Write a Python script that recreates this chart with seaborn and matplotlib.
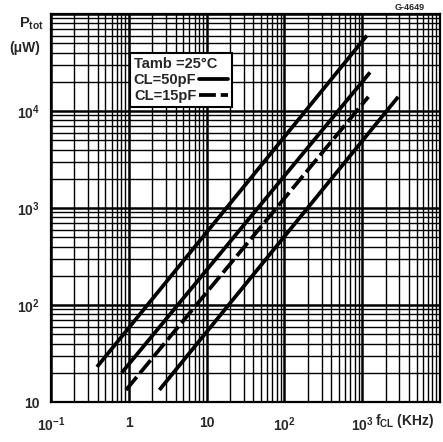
import numpy as np
import pandas as pd
import matplotlib
matplotlib.use("Agg")
import matplotlib.pyplot as plt
import seaborn as sns
from matplotlib.lines import Line2D
from matplotlib.ticker import LogLocator, FixedLocator, FixedFormatter, NullFormatter

# ---- data ----
freq_a = [0.39, 1150]
ptot_a = [23, 60000]
freq_b = [0.81, 1260]
ptot_b = [20, 25000]
freq_c = [0.92, 1200]
ptot_c = [13.3, 14000]
freq_d = [2.47, 2900]
ptot_d = [13.3, 14000]
curve_styles = ["solid", "solid", "dashed", "solid"]

x_ticks = [0.1, 1, 10, 100, 1000, 10000]
x_tick_labels = [r"$10^{-1}$", "1", "10", r"$10^{2}$", r"$10^{3}$", ""]
y_ticks = [10, 100, 1000, 10000, 100000]
y_tick_labels = ["10", r"$10^{2}$", r"$10^{3}$", r"$10^{4}$", ""]
legend_labels = ["CL=50pF", "CL=15pF"]
legend_title = "Tamb =25°C"

sns.set_style("white")
plt.rcParams["font.family"] = ["Liberation Sans", "DejaVu Sans"]
plt.rcParams["font.weight"] = "bold"
plt.rcParams["mathtext.fontset"] = "custom"
plt.rcParams["mathtext.rm"] = "Liberation Sans:bold"
plt.rcParams["mathtext.bf"] = "Liberation Sans:bold"
plt.rcParams["mathtext.it"] = "Liberation Sans:bold"
plt.rcParams["mathtext.default"] = "bf"

W, H = 443, 442
fig = plt.figure(figsize=(W / 100, H / 100), dpi=100)
ax = fig.add_axes([51 / W, 40 / H, 389 / W, 388 / H])
ax.set_xscale("log")
ax.set_yscale("log")

dash = (0, (4.5, 1.3))
rows = []
for name, f, p in zip("ABCD", [freq_a, freq_b, freq_c, freq_d],
                      [ptot_a, ptot_b, ptot_c, ptot_d]):
    for fi, pi in zip(f, p):
        rows.append({"curve": name, "f": fi, "P": pi})
df = pd.DataFrame(rows)

for name, st in zip("ABCD", curve_styles):
    sub = df[df["curve"] == name]
    sns.lineplot(data=sub, x="f", y="P", ax=ax, color="black", lw=2.7,
                 linestyle="-" if st == "solid" else dash,
                 estimator=None, sort=False, solid_capstyle="butt", zorder=4)

ax.set_xlim(0.1, 1e4)
ax.set_ylim(10, 1e5)

ax.xaxis.set_major_locator(FixedLocator(x_ticks))
ax.xaxis.set_major_formatter(FixedFormatter(x_tick_labels))
ax.yaxis.set_major_locator(FixedLocator(y_ticks))
ax.yaxis.set_major_formatter(FixedFormatter(y_tick_labels))
ax.xaxis.set_minor_locator(LogLocator(base=10, subs=np.arange(2, 10), numticks=30))
ax.yaxis.set_minor_locator(LogLocator(base=10, subs=np.arange(2, 10), numticks=30))
ax.xaxis.set_minor_formatter(NullFormatter())
ax.yaxis.set_minor_formatter(NullFormatter())

ax.grid(which="major", color="black", lw=1.8)
ax.grid(which="minor", color="black", lw=1.0)
ax.tick_params(which="both", length=0, labelsize=10)
ax.tick_params(axis="x", pad=10)
ax.tick_params(axis="y", pad=8)
ax.set_xlabel("")
ax.set_ylabel("")
for s in ax.spines.values():
    s.set_color("black")
    s.set_linewidth(1.6)

handles = [Line2D([], [], color="black", lw=2.7, ls="-"),
           Line2D([], [], color="black", lw=2.7, ls=dash)]
leg = ax.legend(handles, legend_labels, title=legend_title,
                loc="upper left", bbox_to_anchor=((130 - 51) / 389, (402 - 53) / 388),
                bbox_transform=ax.transAxes, frameon=True, fancybox=False,
                edgecolor="black", framealpha=1, markerfirst=False,
                handlelength=2.0, handletextpad=0.2, borderpad=0.25,
                labelspacing=0.15, fontsize=10.5, title_fontsize=10.5,
                borderaxespad=0, alignment="left")
leg.get_frame().set_linewidth(1.5)
leg.set_zorder(6)

fig.text(31 / W, 1 - 24 / H, r"P$_{\mathbf{tot}}$", fontsize=10.5, ha="center", va="center")
fig.text(25 / W, 1 - 48 / H, "(μW)", fontsize=10, ha="center", va="center")
fig.text(375 / W, 1 - 421 / H, r"f$_{CL}$ (KHz)", fontsize=10, ha="left", va="center")
fig.text(410 / W, 1 - 7 / H, "G-4649", fontsize=6.5, ha="center", va="center")

fig.savefig("out.png", dpi=100, facecolor="white")
